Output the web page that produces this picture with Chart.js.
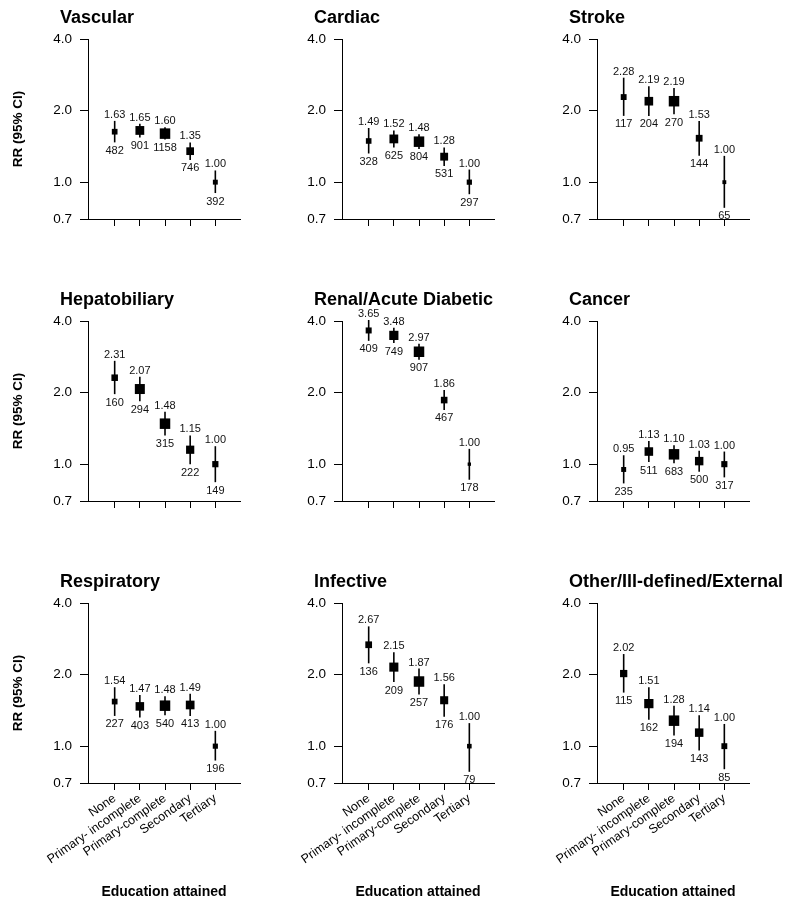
<!DOCTYPE html>
<html>
<head>
<meta charset="utf-8">
<script src="https://cdn.jsdelivr.net/npm/chart.js@4.4.0/dist/chart.umd.min.js"></script>
<style>
  body { margin: 0; background: #fff; }
  #wrap { position: relative; width: 800px; height: 909px; }
  #wrap canvas { position: absolute; }
</style>
</head>
<body>
<div id="wrap"></div>
<script>
const categories = ['None', 'Primary- incomplete', 'Primary-complete', 'Secondary', 'Tertiary'];
const causes = ['Vascular', 'Cardiac', 'Stroke',
                'Hepatobiliary', 'Renal/Acute Diabetic', 'Cancer',
                'Respiratory', 'Infective', 'Other/Ill-defined/External'];
const yTicks = [0.7, 1.0, 2.0, 4.0];

// relative risk per panel, one row per cause
const rrValues = [
    [1.63, 1.65, 1.60, 1.35, 1.00],
    [1.49, 1.52, 1.48, 1.28, 1.00],
    [2.28, 2.19, 2.19, 1.53, 1.00],
    [2.31, 2.07, 1.48, 1.15, 1.00],
    [3.65, 3.48, 2.97, 1.86, 1.00],
    [0.95, 1.13, 1.10, 1.03, 1.00],
    [1.54, 1.47, 1.48, 1.49, 1.00],
    [2.67, 2.15, 1.87, 1.56, 1.00],
    [2.02, 1.51, 1.28, 1.14, 1.00]
];
const lowerCI = [
    [1.47, 1.54, 1.51, 1.24, 0.90],
    [1.32, 1.40, 1.38, 1.17, 0.89],
    [1.90, 1.90, 1.93, 1.29, 0.78],
    [1.97, 1.84, 1.32, 1.00, 0.84],
    [3.30, 3.23, 2.75, 1.69, 0.86],
    [0.83, 1.02, 1.01, 0.93, 0.88],
    [1.34, 1.32, 1.35, 1.34, 0.87],
    [2.23, 1.86, 1.65, 1.33, 0.78],
    [1.68, 1.29, 1.11, 0.96, 0.80]
];
const upperCI = [
    [1.81, 1.76, 1.70, 1.47, 1.12],
    [1.69, 1.65, 1.59, 1.40, 1.13],
    [2.75, 2.53, 2.49, 1.81, 1.29],
    [2.72, 2.33, 1.66, 1.32, 1.19],
    [4.04, 3.75, 3.21, 2.05, 1.16],
    [1.09, 1.25, 1.20, 1.14, 1.13],
    [1.77, 1.64, 1.62, 1.66, 1.16],
    [3.19, 2.48, 2.12, 1.82, 1.25],
    [2.44, 1.77, 1.48, 1.35, 1.24]
];
const deaths = [
    [482, 901, 1158, 746, 392],
    [328, 625, 804, 531, 297],
    [117, 204, 270, 144, 65],
    [160, 294, 315, 222, 149],
    [409, 749, 907, 467, 178],
    [235, 511, 683, 500, 317],
    [227, 403, 540, 413, 196],
    [136, 209, 257, 176, 79],
    [115, 162, 194, 143, 85]
];

const FONT = "'Liberation Sans', Arial, Helvetica, sans-serif";
Chart.defaults.font.family = FONT;
Chart.defaults.color = '#000';

const colLeft = [0, 254, 509];
const rowTop = [0, 282, 564];
const wrap = document.getElementById('wrap');

function panelPlugin(k) {
    return {
        id: 'panel' + k,
        beforeDatasetsDraw(chart) {
            const {ctx, scales: {x, y}} = chart;
            ctx.save();
            ctx.strokeStyle = '#000';
            ctx.lineWidth = 1.6;
            lowerCI[k].forEach((lo, i) => {
                const px = x.getPixelForValue(i + 1);
                ctx.beginPath();
                ctx.moveTo(px, y.getPixelForValue(lo));
                ctx.lineTo(px, y.getPixelForValue(upperCI[k][i]));
                ctx.stroke();
            });
            ctx.restore();
        },
        afterDraw(chart) {
            const {ctx, chartArea, scales: {x, y}} = chart;
            ctx.save();
            ctx.fillStyle = '#111';
            ctx.textAlign = 'center';
            ctx.textBaseline = 'alphabetic';
            ctx.font = '11px ' + FONT;
            rrValues[k].forEach((v, i) => {
                const px = x.getPixelForValue(i + 1);
                ctx.fillText(v.toFixed(2), px, y.getPixelForValue(upperCI[k][i]) - 3);
                ctx.fillText(String(deaths[k][i]), px, y.getPixelForValue(lowerCI[k][i]) + 11.5);
            });
            ctx.fillStyle = '#000';
            ctx.textAlign = 'left';
            ctx.font = 'bold 18px ' + FONT;
            ctx.fillText(causes[k], chartArea.left - 28, chartArea.top - 16);
            ctx.restore();
        }
    };
}

causes.forEach((cause, k) => {
    const row = Math.floor(k / 3);
    const col = k % 3;
    const w = col === 2 ? 800 - colLeft[col] : 254;
    const h = row === 2 ? 909 - rowTop[row] : 282;
    const canvas = document.createElement('canvas');
    canvas.width = w;
    canvas.height = h;
    canvas.style.left = colLeft[col] + 'px';
    canvas.style.top = rowTop[row] + 'px';
    canvas.style.width = w + 'px';
    canvas.style.height = h + 'px';
    wrap.appendChild(canvas);

    const maxN = Math.max(...deaths[k]);
    const radii = deaths[k].map(n => 10.5 * Math.pow(n / maxN, 0.7) / Math.SQRT2);

    new Chart(canvas.getContext('2d'), {
        type: 'scatter',
        data: {
            datasets: [{
                data: rrValues[k].map((v, i) => ({x: i + 1, y: v})),
                pointStyle: 'rect',
                pointRadius: radii,
                backgroundColor: '#000',
                borderWidth: 0,
                showLine: false
            }]
        },
        options: {
            responsive: false,
            animation: false,
            events: [],
            layout: {padding: {top: 39, left: 0, right: w - 240, bottom: 0}},
            plugins: {legend: {display: false}, tooltip: {enabled: false}},
            scales: {
                x: {
                    type: 'linear',
                    min: -0.06,
                    max: 5.98,
                    afterBuildTicks: s => { s.ticks = categories.map((c, i) => ({value: i + 1})); },
                    afterFit: s => { s.height = h - 219; },
                    grid: {drawOnChartArea: false, drawTicks: true, tickLength: 7, color: '#000', lineWidth: 1},
                    border: {display: true, color: '#000', width: 1},
                    ticks: {
                        display: row === 2,
                        autoSkip: false,
                        maxRotation: 35,
                        minRotation: 35,
                        padding: 1,
                        font: {size: 12.5},
                        color: '#000',
                        callback: v => categories[Math.round(v) - 1]
                    },
                    title: {
                        display: row === 2,
                        text: 'Education attained',
                        font: {size: 14, weight: 'bold'},
                        color: '#000',
                        padding: {top: 0, bottom: 8}
                    }
                },
                y: {
                    type: 'logarithmic',
                    min: 0.7,
                    max: 4.0,
                    afterBuildTicks: s => { s.ticks = yTicks.map(v => ({value: v})); },
                    afterFit: s => { s.width = 88; },
                    grid: {drawOnChartArea: false, drawTicks: true, tickLength: 8, color: '#000', lineWidth: 1},
                    border: {display: true, color: '#000', width: 1},
                    ticks: {
                        padding: 8,
                        font: {size: 13.5},
                        color: '#000',
                        callback: v => Number(v).toFixed(1)
                    },
                    title: {
                        display: col === 0,
                        text: 'RR (95% CI)',
                        font: {size: 13.5, weight: 'bold'},
                        color: '#000',
                        padding: {top: 10, bottom: 0}
                    }
                }
            }
        },
        plugins: [panelPlugin(k)]
    });
});
</script>
</body>
</html>
